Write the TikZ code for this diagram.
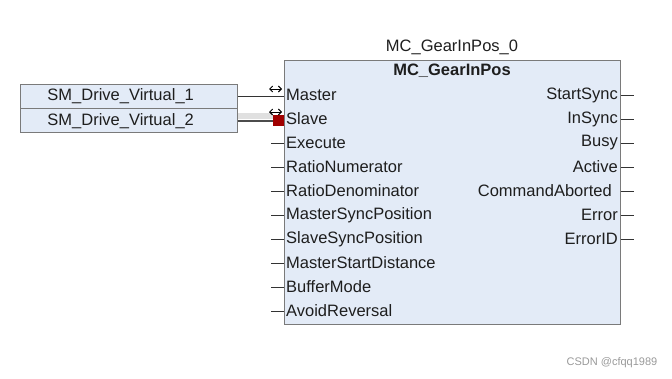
\documentclass[tikz,border=0pt]{standalone}
\usepackage{fontspec}
\setmainfont{Liberation Sans}
\usepackage{tikz}
\usetikzlibrary{positioning, calc, arrows.meta}
\definecolor{FbFill}{HTML}{E3EBF7}
\definecolor{FbBorder}{HTML}{7A7A7A}
\definecolor{SlaveRed}{HTML}{A00000}
\definecolor{PinText}{HTML}{1E1E1E}

\tikzset{
  fbbox/.style={draw=FbBorder, fill=FbFill, line width=0.9pt, inner sep=0pt},
  drvbox/.style={draw=FbBorder, fill=FbFill, line width=0.9pt, inner xsep=27pt, inner ysep=0pt,
                 text width=163pt, minimum height=24pt, align=left, text=PinText},
  inpin/.style={anchor=west, inner sep=0pt, text=PinText},
  outpin/.style={anchor=east, inner sep=0pt, text=PinText},
  stub/.style={draw=black!80, line width=0.9pt},
  bidir/.style={{Straight Barb[length=3pt,width=6pt]}-{Straight Barb[length=3pt,width=6pt]}, line width=0.9pt}
}

\begin{document}
\begin{tikzpicture}[x=1pt, y=-1pt, font=\fontsize{16.5}{19}\selectfont]
      \useasboundingbox (0,0) rectangle (672,378);
      %% Function block
      \node[fbbox, minimum width=336pt, minimum height=264pt, anchor=north west] (fb) at (284,60) {};
      \node[text=PinText] (inst) at (452,47) {MC\_GearInPos\_0};
      \node[text=PinText, font=\fontsize{16.5}{19}\selectfont\bfseries] (fbname) at (452,71) {MC\_GearInPos};
      %% Inputs
      \node[inpin] (master) at (286,95) {Master};
      \node[inpin] (slave) at (286,119) {Slave};
      \node[inpin] (execute) at (286,143) {Execute};
      \node[inpin] (rationum) at (286,167) {RatioNumerator};
      \node[inpin] (ratioden) at (286,191) {RatioDenominator};
      \node[inpin] (msyncpos) at (286,215) {MasterSyncPosition};
      \node[inpin] (ssyncpos) at (286,239) {SlaveSyncPosition};
      \node[inpin] (mstartdist) at (286,263) {MasterStartDistance};
      \node[inpin] (buffmode) at (286,287) {BufferMode};
      \node[inpin] (avoidrev) at (286,311) {AvoidReversal};
      %% Outputs
      \node[outpin] (startsync) at (618,95) {StartSync};
      \node[outpin] (insync) at (618,119) {InSync};
      \node[outpin] (busy) at (618,143) {Busy};
      \node[outpin] (active) at (618,167) {Active};
      \node[outpin] (cmdabort) at (612,191) {CommandAborted};
      \node[outpin] (error) at (618,215) {Error};
      \node[outpin] (errorid) at (618,239) {ErrorID};
      %% Pin stubs
      \foreach \p in {execute, rationum, ratioden, msyncpos, ssyncpos, mstartdist, buffmode, avoidrev}
        \draw[stub] (fb.west |- \p) -- ++(-13,0);
      \foreach \p in {startsync, insync, busy, active, cmdabort, error, errorid}
        \draw[stub] (fb.east |- \p) -- ++(13,0);
      %% Axis variables
      \node[drvbox, anchor=north west] (drv1) at (20,83.5) {SM\_Drive\_Virtual\_1};
      \node[drvbox, below=0pt of drv1] (drv2) {SM\_Drive\_Virtual\_2};
      %% Master connection
      \draw[stub] (drv1.east) -- (drv1.east -| fb.west);
      \draw[bidir] ($(fb.west |- master) + (-15,-6)$) -- ++(13,0);
      %% Slave connection (highlighted)
      \fill[black!12] (drv2.east |- 0,113) rectangle (273,118.5);
      \draw[black!70, line width=1.6pt] (drv2.east) -- (drv2.east -| fb.west);
      \fill[SlaveRed] (273,114.5) rectangle (284,126);
      \draw[bidir] ($(fb.west |- slave) + (-15,-7)$) -- ++(13,0);
      %% Watermark
      \node[text=black!40, font=\fontsize{11}{13}\selectfont] (wm) at (612,363) {CSDN @cfqq1989};
\end{tikzpicture}
\end{document}
